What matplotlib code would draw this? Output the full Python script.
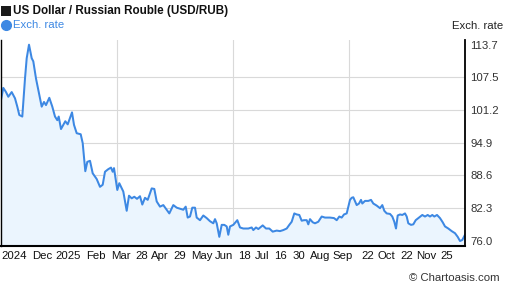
import matplotlib
matplotlib.use("Agg")
import matplotlib.pyplot as plt
from matplotlib.lines import Line2D
from matplotlib.patches import Rectangle

# timeline position (arbitrary units along the x axis) and USD/RUB rate
t = [0, 2.3, 5, 7.3, 10.7, 14, 16.3, 18.3, 21.3, 24, 25.7, 28, 30.7, 32.3, 35, 37.3,
     40.7, 43, 45, 48.3, 51.3, 54, 56.3, 57.7, 60, 62.3, 64.3, 66.7, 69, 71, 73, 75.7,
     79.7, 81.7, 84.3, 86.3, 89, 91.7, 95.7, 99, 101.7, 104, 107.3, 110, 111.7, 113,
     115, 116.3, 118.3, 122.3, 125.7, 128, 130.7, 133.3, 136, 139, 141.3, 144, 146.7,
     150.7, 153.3, 155.7, 159, 162.3, 165.7, 168.3, 172.3, 175.7, 179, 182.3, 184.7,
     186.7, 189, 191.3, 194, 195.7, 199, 202.3, 205.7, 209, 212.3, 214, 215.7, 218.3,
     220.7, 223.3, 225.7, 227.3, 229, 232.3, 236.3, 239, 242.3, 247.3, 250.7, 252.3,
     255, 257.3, 261.7, 265, 268.3, 271.7, 275.7, 279, 282.3, 285.7, 288.3, 290.7,
     293.3, 295.7, 298.3, 300.7, 303, 305.7, 307.3, 309, 311.7, 314, 317.3, 320.7,
     324, 329, 333, 335.7, 338.3, 340.7, 343, 345.7, 347.3, 349, 350.7, 352.3, 355.7,
     358, 360, 361.3, 364, 367.3, 370, 372.3, 375.7, 379, 381.3, 383.3, 385.7, 389,
     391.3, 393.3, 395, 396.7, 399, 401.3, 404, 405.7, 407.3, 410, 412.3, 414.7, 418,
     421.3, 424, 426.7, 429, 431.3, 433.3, 436, 439, 441.7, 444, 447.3, 450.7, 454,
     456.7, 459, 461.3, 464]
rate = [103.1, 105.4, 104.6, 103.7, 104.6, 103.4, 101.8, 100.2, 99.9, 107.2, 111.1, 113.7,
        111.1, 110.5, 107.2, 105.0, 101.8, 102.7, 102.1, 103.5, 101.8, 99.9, 99.2, 99.9,
        97.5, 98.3, 99.0, 98.4, 99.6, 100.7, 98.3, 96.7, 96.5, 94.8, 89.4, 91.2, 91.4,
        89.0, 87.9, 86.4, 86.8, 89.3, 89.8, 90.1, 89.3, 90.0, 87.4, 85.8, 87.1, 85.5,
        81.8, 84.7, 84.2, 84.5, 84.1, 84.6, 83.0, 84.3, 83.9, 86.1, 86.0, 83.6, 82.6,
        82.9, 82.0, 81.3, 82.9, 82.4, 82.2, 82.0, 82.6, 80.5, 80.7, 82.4, 82.4, 80.5,
        80.0, 80.9, 80.4, 79.8, 79.4, 80.2, 79.4, 76.8, 79.1, 79.1, 78.8, 77.2, 78.8,
        79.1, 80.0, 78.6, 78.4, 78.4, 78.6, 78.1, 78.6, 78.3, 79.0, 78.4, 78.4, 77.8,
        78.0, 77.9, 78.1, 78.4, 79.1, 79.7, 81.3, 81.1, 81.0, 79.9, 80.0, 80.0, 79.2,
        80.2, 79.6, 79.4, 79.7, 80.7, 80.5, 80.5, 80.4, 80.0, 80.7, 80.5, 81.1, 81.3,
        82.6, 83.9, 84.3, 84.4, 82.9, 83.2, 83.9, 83.2, 83.7, 83.7, 83.9, 83.2, 82.8,
        82.3, 82.9, 81.8, 81.3, 81.2, 80.7, 79.7, 78.4, 80.9, 81.1, 81.0, 81.3, 80.7,
        79.4, 79.1, 79.2, 80.0, 80.5, 81.0, 80.7, 81.0, 80.7, 81.0, 80.7, 81.0, 80.4,
        79.6, 78.8, 78.4, 77.9, 77.5, 76.8, 76.0, 76.2, 77.2]

x_labels = ["2024", "Dec", "2025", "Feb", "Mar", "28", "Apr", "29", "May", "Jun", "18",
            "Jul", "16", "30", "Aug", "Sep", "22", "Oct", "22", "Nov", "25"]
x_label_pos = [13, 41, 67, 95, 120, 140.5, 158.5, 179, 200.5, 223, 243, 261, 279,
               297.5, 319, 342, 366.5, 385.5, 405.5, 425.5, 445.5]
y_ticks = [76.0, 82.3, 88.6, 94.9, 101.2, 107.5, 113.7]
x_grid = [116, 232, 348]

LINE_COLOR = "#3d88e3"
FILL_COLOR = "#ebf5fe"
FONT = ["Liberation Sans", "DejaVu Sans"]
W, H = 507, 288


def main() -> None:
    plt.rcParams["font.family"] = FONT
    fig = plt.figure(figsize=(W / 100, H / 100), dpi=100)
    ax = fig.add_axes([1 / W, 42.3 / H, 464 / W, 205.7 / H])

    y_min, y_max = 75.1, 114.6
    ax.fill_between(t, rate, y_min, color=FILL_COLOR, lw=0)
    ax.plot(t, rate, color=LINE_COLOR, lw=1.45, solid_joinstyle="round")

    ax.set_xlim(0, 464)
    ax.set_ylim(y_min, y_max)

    # сетка: горизонтальные линии только между крайними значениями
    for yv in y_ticks[1:-1]:
        ax.axhline(yv, color="#d9d9d9", lw=0.8, zorder=0)
    for xv in x_grid:
        ax.axvline(xv, color="#d9d9d9", lw=0.8, zorder=0)

    ax.yaxis.tick_right()
    ax.set_yticks(y_ticks, [f"{v:.1f}" for v in y_ticks])
    ax.set_xticks(x_label_pos, x_labels)
    ax.tick_params(axis="y", length=0, pad=4, labelsize=8.2, labelcolor="#333333")
    ax.tick_params(axis="x", length=0, pad=3.5, labelsize=8.2, labelcolor="#111111")

    ax.spines["top"].set_visible(False)
    ax.spines["left"].set_linewidth(1.0)
    ax.spines["right"].set_linewidth(1.3)
    ax.spines["bottom"].set_linewidth(1.5)

    # заголовок и легенда
    fig.add_artist(Rectangle((1 / W, 1 - 16 / H), 10 / W, 10 / H,
                             transform=fig.transFigure, color="#1a1a1a", lw=0))
    fig.text(13 / W, 1 - 11 / H, "US Dollar / Russian Rouble (USD/RUB)", fontsize=8.4,
             fontweight="bold", va="center", ha="left", color="#111111")
    fig.add_artist(Line2D([6 / W], [1 - 25 / H], marker="o", markersize=7.0,
                          color=LINE_COLOR, transform=fig.transFigure))
    fig.text(13 / W, 1 - 25 / H, "Exch. rate", fontsize=8.2, va="center", ha="left",
             color=LINE_COLOR)
    fig.text(503 / W, 1 - 26 / H, "Exch. rate", fontsize=8.2, va="center", ha="right",
             color="#222222")
    fig.text(500 / W, 1 - 278 / H, "© Chartoasis.com", fontsize=8.2, va="center",
             ha="right", color="#333333")

    fig.savefig("out.png", dpi=100)


if __name__ == "__main__":
    main()
